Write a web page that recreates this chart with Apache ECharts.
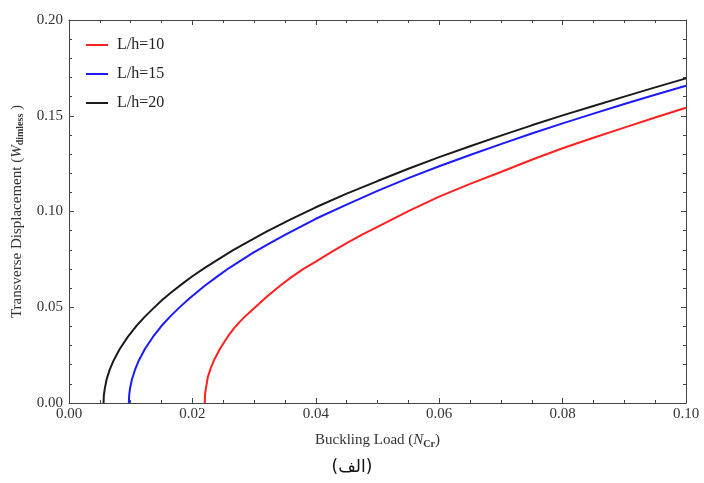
<!DOCTYPE html>
<html>
<head>
<meta charset="utf-8">
<script src="https://cdn.jsdelivr.net/npm/echarts@6/dist/echarts.min.js"></script>
<style>html,body{margin:0;padding:0;background:#fff}#c{width:704px;height:483px}</style>
</head>
<body>
<div id="c"></div>
<script>
var seriesNames = ['L/h=10', 'L/h=15', 'L/h=20'];
var seriesColors = ['#ff2020', '#1a1aff', '#1a1a1a'];
var red10 = [[0.0220,0],[0.02205,0.0045],[0.0222,0.0078],[0.0225,0.0135],[0.0230,0.0185],[0.0236,0.0230],[0.0245,0.0285],[0.0258,0.0350],[0.0267,0.0388],[0.0277,0.0425],[0.0288,0.0460],[0.0300,0.0495],[0.0320,0.0553],[0.0341,0.0610],[0.0360,0.0656],[0.0380,0.0700],[0.0400,0.0738],[0.0425,0.0788],[0.0450,0.0835],[0.0475,0.0879],[0.0500,0.0920],[0.0550,0.1002],[0.0600,0.1078],[0.0650,0.1144],[0.0700,0.1206],[0.0750,0.1270],[0.0800,0.1330],[0.0850,0.1385],[0.0900,0.1438],[0.0950,0.1491],[0.1000,0.1542]];
var blue15 = [[0.0097,0],[0.00975,0.0040],[0.0099,0.0078],[0.0102,0.0123],[0.0107,0.0174],[0.0113,0.0221],[0.0123,0.0282],[0.0136,0.0345],[0.0152,0.0410],[0.0165,0.0455],[0.0180,0.0502],[0.0195,0.0546],[0.0220,0.0612],[0.0240,0.0660],[0.0260,0.0706],[0.0298,0.0784],[0.0325,0.0834],[0.0350,0.0878],[0.0400,0.0962],[0.0450,0.1036],[0.0500,0.1108],[0.0550,0.1174],[0.0600,0.1236],[0.0650,0.1295],[0.0700,0.1352],[0.0750,0.1407],[0.0800,0.1460],[0.0850,0.1511],[0.0900,0.1561],[0.0950,0.1610],[0.1000,0.1657]];
var black20 = [[0.0056,0],[0.00565,0.0040],[0.0058,0.0075],[0.0061,0.0124],[0.0066,0.0174],[0.0072,0.0220],[0.0082,0.0281],[0.0095,0.0344],[0.0110,0.0405],[0.0123,0.0451],[0.0135,0.0489],[0.0150,0.0535],[0.0165,0.0576],[0.0185,0.0626],[0.0200,0.0662],[0.0220,0.0706],[0.0240,0.0746],[0.0266,0.0798],[0.0290,0.0842],[0.0320,0.0895],[0.0360,0.0960],[0.0400,0.1022],[0.0450,0.1093],[0.0500,0.1159],[0.0550,0.1223],[0.0600,0.1284],[0.0650,0.1341],[0.0700,0.1396],[0.0750,0.1450],[0.0800,0.1502],[0.0850,0.1551],[0.0900,0.1600],[0.0950,0.1648],[0.1000,0.1695]];
var xTickLabels = ['0.00','0.02','0.04','0.06','0.08','0.10'];
var yTickLabels = ['0.00','0.05','0.10','0.15','0.20'];

var serif = 'Liberation Serif';
var axisCol = '#444';
function axisCommon(extra) {
  var base = {
    axisLine: {show: true, onZero: false, lineStyle: {color: axisCol, width: 1}},
    axisTick: {show: true, inside: true, length: 5, lineStyle: {color: axisCol}},
    splitLine: {show: false},
    minorSplitLine: {show: false}
  };
  for (var k in extra) base[k] = extra[k];
  return base;
}
var chart = echarts.init(document.getElementById('c'));
var datas = [red10, blue15, black20];
var richName = {
  a: {fontFamily: serif, fontSize: 15, color: '#333'},
  i: {fontFamily: serif, fontSize: 15, fontStyle: 'italic', color: '#333'},
  s: {fontFamily: serif, fontSize: 10, fontWeight: 'bold', color: '#333', padding: [8, 0, 0, 0]}
};
chart.setOption({
  animation: false,
  backgroundColor: '#fff',
  grid: {left: 69, right: 18, top: 20, bottom: 80, containLabel: false},
  legend: {
    data: seriesNames.map(function (n) { return {name: n, icon: 'rect'}; }),
    orient: 'vertical', left: 81, top: 32,
    itemWidth: 22, itemHeight: 2, itemGap: 13,
    textStyle: {fontFamily: serif, fontSize: 16, color: '#222', padding: [0, 0, 0, 4]}
  },
  xAxis: [
    axisCommon({type: 'value', min: 0, max: 0.1, interval: 0.02, position: 'bottom',
      minorTick: {show: true, splitNumber: 4, length: 3, lineStyle: {color: axisCol}},
      axisLabel: {fontFamily: serif, fontSize: 15, color: '#333', margin: 4,
        formatter: function (v) { return xTickLabels[Math.round(v / 0.02)]; }},
      name: '{a|Buckling Load (}{i|N}{s|Cr}{a|)}', nameLocation: 'middle', nameGap: 28,
      nameTextStyle: {rich: richName}
    }),
    axisCommon({type: 'value', min: 0, max: 0.1, interval: 0.02, position: 'top',
      minorTick: {show: true, splitNumber: 4, length: 3, lineStyle: {color: axisCol}},
      axisLabel: {show: false}})
  ],
  yAxis: [
    axisCommon({type: 'value', min: 0, max: 0.2, interval: 0.05, position: 'left',
      minorTick: {show: true, splitNumber: 5, length: 3, lineStyle: {color: axisCol}},
      axisLabel: {fontFamily: serif, fontSize: 15, color: '#333', margin: 6,
        formatter: function (v) { return yTickLabels[Math.round(v / 0.05)]; }},
      name: '{a|Transverse Displacement (}{i|W}{s|dimless}{a| )}', nameLocation: 'middle', nameGap: 38, nameRotate: 90,
      nameTextStyle: {rich: richName}
    }),
    axisCommon({type: 'value', min: 0, max: 0.2, interval: 0.05, position: 'right',
      minorTick: {show: true, splitNumber: 5, length: 3, lineStyle: {color: axisCol}},
      axisLabel: {show: false}})
  ],
  title: {
    text: '(الف)', left: 'center', top: 454,
    textStyle: {fontFamily: 'DejaVu Sans', fontSize: 17, fontWeight: 'normal', color: '#111'}
  },
  series: seriesNames.map(function (n, i) {
    return {
      name: n, type: 'line', data: datas[i], symbol: 'none', smooth: false,
      xAxisIndex: 0, yAxisIndex: 0,
      lineStyle: {color: seriesColors[i], width: 2}, itemStyle: {color: seriesColors[i]}
    };
  })
});
</script>
</body>
</html>
